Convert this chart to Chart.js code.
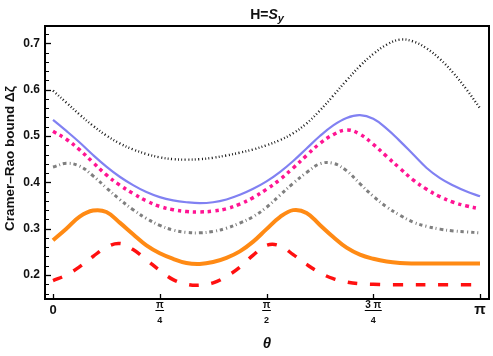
<!DOCTYPE html>
<html>
<head>
<meta charset="utf-8">
<script src="https://cdn.jsdelivr.net/npm/chart.js@4"></script>
<style>
  html, body { margin: 0; padding: 0; background: #fff; }
  #wrap { width: 493px; height: 356px; position: relative; }
</style>
</head>
<body>
<div id="wrap"><canvas id="chart"></canvas></div>
<script>
const thetaIdx = [0,1,2,3,4,5,6,7,8,9,10,11,12,13,14,15,16,17,18,19,20,21,22,23,24,25,26,27,28,29,30,31,32];
const theta = thetaIdx.map(j => j * Math.PI / 32);

const blackDotted = [0.598,0.572,0.546,0.522,0.501,0.484,0.471,0.461,0.454,0.450,0.449,0.450,0.453,0.458,0.464,0.471,
                     0.480,0.491,0.506,0.527,0.555,0.587,0.620,0.651,0.677,0.697,0.708,0.704,0.689,0.666,0.636,0.600,0.560];
const blueSolid   = [0.535,0.511,0.486,0.459,0.434,0.412,0.394,0.379,0.368,0.361,0.357,0.355,0.357,0.363,0.373,0.386,
                     0.402,0.422,0.446,0.473,0.500,0.523,0.539,0.545,0.537,0.516,0.489,0.460,0.431,0.409,0.393,0.380,0.370];
const pinkDotted  = [0.510,0.493,0.470,0.443,0.416,0.394,0.376,0.360,0.348,0.341,0.337,0.336,0.338,0.343,0.353,0.367,
                     0.385,0.406,0.431,0.458,0.484,0.503,0.513,0.504,0.482,0.456,0.430,0.405,0.385,0.369,0.357,0.349,0.343];
const grayDashDot = [0.433,0.441,0.435,0.414,0.388,0.363,0.341,0.322,0.307,0.297,0.292,0.291,0.294,0.301,0.312,0.326,
                     0.346,0.372,0.398,0.421,0.440,0.441,0.425,0.397,0.370,0.347,0.329,0.314,0.305,0.299,0.295,0.293,0.291];
const orangeSolid = [0.275,0.300,0.326,0.339,0.336,0.313,0.288,0.264,0.247,0.235,0.226,0.224,0.228,0.237,0.251,0.272,
                     0.299,0.325,0.340,0.334,0.308,0.282,0.259,0.244,0.235,0.229,0.226,0.225,0.225,0.225,0.225,0.225,0.225];
const redDashed   = [0.188,0.200,0.218,0.240,0.260,0.268,0.255,0.233,0.210,0.190,0.180,0.178,0.183,0.197,0.217,0.243,
                     0.264,0.263,0.244,0.223,0.205,0.192,0.185,0.181,0.180,0.179,0.179,0.179,0.179,0.179,0.179,0.179,0.179];

// --- Ticks ---
const yMajorTicks = [0.2, 0.3, 0.4, 0.5, 0.6, 0.7];
const yMinorTicks = [0.16,0.18,0.22,0.24,0.26,0.28,0.32,0.34,0.36,0.38,0.42,0.44,0.46,0.48,0.52,0.54,0.56,0.58,0.62,0.64,0.66,0.68,0.72];
const xTickValues = [0, Math.PI / 4, Math.PI / 2, 3 * Math.PI / 4, Math.PI];
const xTickNum = ['0', 'π', 'π', '3 π', 'π'];
const xTickDen = ['', '4', '2', '4', ''];

const FONT = '"Liberation Sans", Arial, sans-serif';
const TEXT = '#111';

const series = [
    { data: blackDotted, color: '#1a1a1a', width: 2.4, dash: [1, 2.4] },
    { data: grayDashDot, color: '#7f7f7f', width: 3,   dash: [3.5, 3, 1, 3] },
    { data: pinkDotted,  color: '#ff1493', width: 3.5, dash: [3.5, 4] },
    { data: blueSolid,   color: '#8181f2', width: 2.2, dash: [] },
    { data: redDashed,   color: '#ff1010', width: 3.5, dash: [10, 12.7] },
    { data: orangeSolid, color: '#ff8a14', width: 4,   dash: [] }
];

const datasets = series.map(s => ({
    data: s.data.map((v, i) => ({ x: theta[i], y: v })),
    borderColor: s.color,
    borderWidth: s.width,
    borderDash: s.dash,
    pointRadius: 0,
    fill: false,
    tension: 0.4
}));

// --- Frame, ticks, labels and titles drawn over the chart area ---
const framePlugin = {
    id: 'frame',
    afterDraw(chart) {
        const { ctx, chartArea: a, scales: { x, y } } = chart;
        ctx.save();
        ctx.strokeStyle = '#000';

        // inward ticks on the left side
        ctx.lineWidth = 1;
        yMinorTicks.forEach(v => {
            const py = Math.round(y.getPixelForValue(v)) + 0.5;
            ctx.beginPath(); ctx.moveTo(a.left, py); ctx.lineTo(a.left + 4, py); ctx.stroke();
        });
        ctx.lineWidth = 1.3;
        yMajorTicks.forEach(v => {
            const py = Math.round(y.getPixelForValue(v)) + 0.5;
            ctx.beginPath(); ctx.moveTo(a.left, py); ctx.lineTo(a.left + 6, py); ctx.stroke();
        });
        xTickValues.forEach(v => {
            const px = Math.round(x.getPixelForValue(v)) + 0.5;
            ctx.beginPath(); ctx.moveTo(px, a.bottom); ctx.lineTo(px, a.bottom - 5); ctx.stroke();
        });

        // frame
        ctx.lineWidth = 2;
        ctx.strokeRect(a.left, a.top, a.right - a.left, a.bottom - a.top);

        ctx.fillStyle = TEXT;
        // y tick labels
        ctx.font = 'bold 12px ' + FONT;
        ctx.textAlign = 'right';
        ctx.textBaseline = 'middle';
        yMajorTicks.forEach(v => {
            ctx.fillText(v.toFixed(1), a.left - 5, y.getPixelForValue(v));
        });

        // x tick labels (fractions of π)
        ctx.textAlign = 'center';
        xTickValues.forEach((v, i) => {
            const px = x.getPixelForValue(v);
            if (!xTickDen[i]) {
                ctx.font = (xTickNum[i] === 'π' ? 'bold 15px ' : 'bold 13px ') + FONT;
                ctx.fillText(xTickNum[i], px, a.bottom + 11);
                return;
            }
            ctx.font = 'bold 10px ' + FONT;
            const wn = ctx.measureText(xTickNum[i]).width;
            ctx.fillText(xTickNum[i], px, a.bottom + 6);
            ctx.font = 'bold 9px ' + FONT;
            const wd = ctx.measureText(xTickDen[i]).width;
            ctx.fillText(xTickDen[i], px, a.bottom + 22);
            const bw = Math.max(wn, wd) + 1;
            ctx.lineWidth = 1;
            ctx.beginPath();
            ctx.moveTo(px - bw / 2, a.bottom + 11.5);
            ctx.lineTo(px + bw / 2, a.bottom + 11.5);
            ctx.stroke();
        });

        // x axis title
        ctx.font = 'italic bold 15px ' + FONT;
        ctx.fillText('θ', (a.left + a.right) / 2, a.bottom + 45);

        // y axis title
        ctx.save();
        ctx.translate(10, (a.top + a.bottom) / 2 - 4);
        ctx.rotate(-Math.PI / 2);
        ctx.font = 'bold 13.5px ' + FONT;
        ctx.fillText('Cramer\u2013Rao bound \u0394\u03b6', 0, 0);
        ctx.restore();

        // plot title H=S_y
        ctx.textAlign = 'left';
        ctx.textBaseline = 'alphabetic';
        const partA = 'H=', partB = 'S', partC = 'y';
        ctx.font = 'bold 14px ' + FONT;
        const wA = ctx.measureText(partA).width;
        ctx.font = 'italic bold 14px ' + FONT;
        const wB = ctx.measureText(partB).width;
        ctx.font = 'italic bold 11px ' + FONT;
        const wC = ctx.measureText(partC).width;
        let tx = (a.left + a.right) / 2 - (wA + wB + wC) / 2;
        const base = 19;
        ctx.font = 'bold 14px ' + FONT;
        ctx.fillText(partA, tx, base); tx += wA;
        ctx.font = 'italic bold 14px ' + FONT;
        ctx.fillText(partB, tx, base); tx += wB;
        ctx.font = 'italic bold 11px ' + FONT;
        ctx.fillText(partC, tx, base + 3);

        ctx.restore();
    }
};

new Chart(document.getElementById('chart'), {
    type: 'line',
    data: { datasets },
    options: {
        responsive: true,
        maintainAspectRatio: false,
        animation: false,
        layout: { padding: { top: 26, right: 4, left: 0, bottom: 0 } },
        plugins: { legend: { display: false }, tooltip: { enabled: false }, title: { display: false } },
        scales: {
            x: {
                type: 'linear',
                min: -0.0589,
                max: Math.PI + 0.066,
                grid: { display: false },
                border: { display: false },
                ticks: { display: false },
                afterFit: s => { s.height = 57; }
            },
            y: {
                min: 0.1482,
                max: 0.7374,
                grid: { display: false },
                border: { display: false },
                ticks: { display: false },
                afterFit: s => { s.width = 45; }
            }
        }
    },
    plugins: [framePlugin]
});
</script>
</body>
</html>
